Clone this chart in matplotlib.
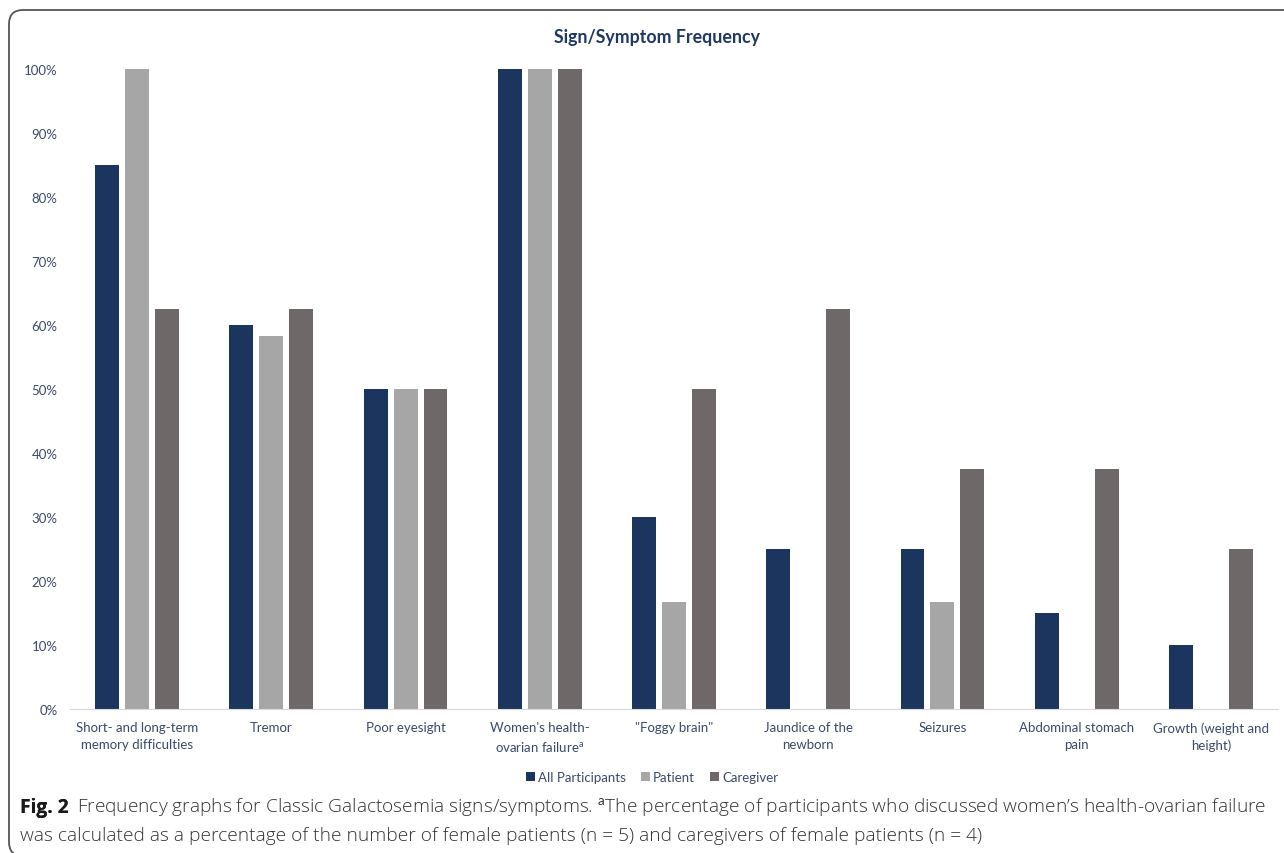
import numpy as np
import matplotlib.pyplot as plt
from matplotlib.patches import FancyBboxPatch

plt.rcParams['font.family'] = ['Lato', 'DejaVu Sans']
plt.rcParams['mathtext.fontset'] = 'custom'
plt.rcParams['mathtext.rm'] = 'Lato'

CATEGORIES = ["Short- and long-term\nmemory difficulties", "Tremor", "Poor eyesight",
              "Women's health-\novarian failure$^{\\mathrm{a}}$", "\"Foggy brain\"",
              "Jaundice of the\nnewborn", "Seizures", "Abdominal stomach\npain",
              "Growth (weight and\nheight)"]
SERIES = ["All Participants", "Patient", "Caregiver"]
ALL_PART = [85, 60, 50, 100, 30, 25, 25, 15, 10]
PATIENT = [100, 58.3, 50, 100, 16.7, 0, 16.7, 0, 0]
CAREGIVER = [62.5, 62.5, 50, 100, 50, 62.5, 37.5, 37.5, 25]
COLORS = ["#1c355e", "#a6a6a6", "#6e6868"]
TXT = "#3b4a6b"

W, H = 1284, 854
fig = plt.figure(figsize=(W / 100, H / 100), dpi=100)
ax = fig.add_axes([70 / W, 1 - 710 / H, (1278 - 70) / W, 640 / H])

x = np.arange(len(CATEGORIES))
bw = 0.178
off = 0.223
for k, vals in enumerate([ALL_PART, PATIENT, CAREGIVER]):
    ax.bar(x + (k - 1) * off, vals, bw, color=COLORS[k], label=SERIES[k])

ax.set_xlim(-0.5, len(CATEGORIES) - 0.5)
ax.set_ylim(0, 100)
ax.set_yticks(np.arange(0, 101, 10))
ax.set_yticklabels(["{}%".format(v) for v in range(0, 101, 10)])
ax.set_xticks(x)
ax.set_xticklabels(CATEGORIES, linespacing=1.45)
ax.tick_params(axis='both', length=0, labelsize=9.5, colors=TXT)
ax.tick_params(axis='x', pad=9)
ax.tick_params(axis='y', pad=9)
for s in ['top', 'right', 'left']:
    ax.spines[s].set_visible(False)
ax.spines['bottom'].set_color('#d9d9d9')

fig.text(657 / W, 1 - 38 / H, "Sign/Symptom Frequency", ha='center', va='center',
         fontsize=12.8, fontweight='bold', color="#1f3864")

fig.legend(loc='center', bbox_to_anchor=(652 / W, 1 - 778 / H), ncol=3, frameon=False,
           fontsize=9.5, handlelength=0.7, handleheight=0.7, handletextpad=0.25,
           columnspacing=1.1, labelcolor=TXT)

# caption
cap_font = ['Open Sans', 'DejaVu Sans']
cap_size = 13.8
t1 = fig.text(20 / W, 1 - 808 / H, "Fig. 2", ha='left', va='center', fontsize=cap_size,
              fontweight='bold', family=cap_font, color='#1a1a1a')
fig.add_artist(t1)
ann = plt.annotate("Frequency graphs for Classic Galactosemia signs/symptoms. "
                   "$^{\\mathrm{a}}$The percentage of participants who discussed women\u2019s health-ovarian failure",
                   xy=(1, 0.5), xycoords=t1, xytext=(6, 0), textcoords='offset points',
                   ha='left', va='center', fontsize=cap_size, family=cap_font, color='#333333',
                   fontweight='light', annotation_clip=False)
fig.text(20 / W, 1 - 836 / H,
         "was calculated as a percentage of the number of female patients (n = 5) "
         "and caregivers of female patients (n = 4)",
         ha='left', va='center', fontsize=cap_size, family=cap_font, color='#333333',
         fontweight='light')

# rounded frame (cut off at the right and bottom edges)
border = FancyBboxPatch((0.09, -0.03), 13.2, 8.46,
                        boxstyle="round,pad=0,rounding_size=0.14",
                        transform=fig.dpi_scale_trans, fill=False,
                        edgecolor='#555555', linewidth=1.3)
fig.patches.append(border)

plt.savefig("out.png", dpi=100)
